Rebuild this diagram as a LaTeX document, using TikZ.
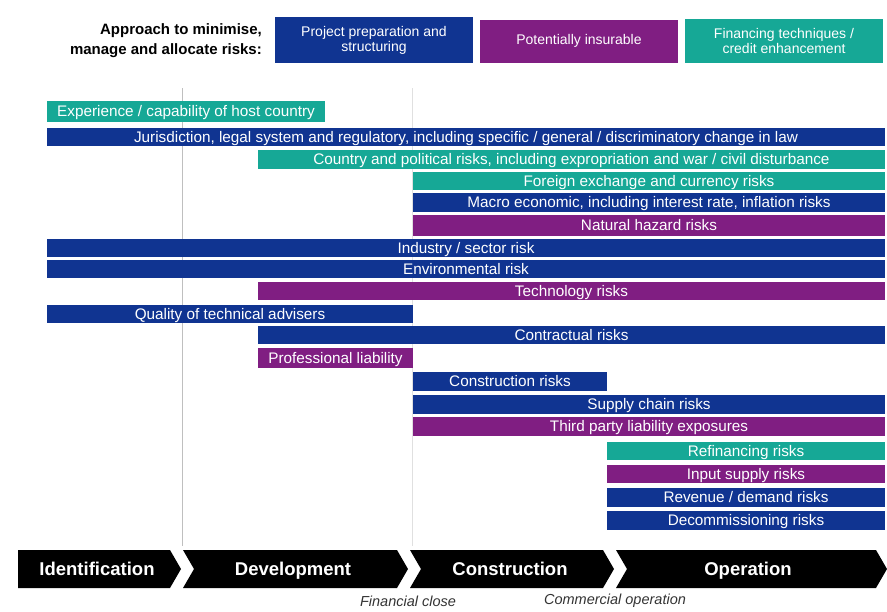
\documentclass[tikz,border=0pt]{standalone}
\usepackage{fontspec}
\setmainfont{Liberation Sans}
\definecolor{rblue}{RGB}{16,52,145}
\definecolor{rpurple}{RGB}{128,30,130}
\definecolor{rteal}{RGB}{22,168,150}
\newcommand\riskbar[7]{%
  \node[bar, fill=#6, minimum width={(#3-#2)*1pt}, minimum height={(#5-#4)*1pt}]
    (#1) at ({(#2+#3)/2},{(#4+#5)/2}) {#7};}
\begin{document}
\begin{tikzpicture}[x=1pt,y=-1pt,
  bar/.style={draw=none, inner sep=0pt, text=white, font=\fontsize{15.3}{15}\selectfont, text height=13.8pt, text depth=3pt},
  legbox/.style={draw=none, inner sep=0pt, text=white, align=center, font=\fontsize{14}{15}\selectfont},
  phase/.style={fill=black},
  phasetext/.style={text=white, font=\bfseries\fontsize{18.5}{20}\selectfont, inner sep=0pt, text height=17.3pt, text depth=4pt},
  milestone/.style={font=\itshape\fontsize{14.5}{14}\selectfont, text=black!80, inner sep=0pt},
  grid/.style={draw=black!25, line width=1pt}]
\useasboundingbox (0,0) rectangle (887,611);
% legend
\node[align=right, anchor=east, inner sep=0pt, font=\bfseries\fontsize{15}{20}\selectfont] (approach) at (262,41)
  {Approach to minimise,\\manage and allocate risks:};
\node[legbox, fill=rblue, minimum width=198pt, minimum height=46pt] (lg1) at (374,40) {Project preparation and\\structuring};
\node[legbox, fill=rpurple, minimum width=198pt, minimum height=43pt] (lg2) at (579,41) {Potentially insurable};
\node[legbox, fill=rteal, minimum width=198pt, minimum height=44pt] (lg3) at (784,41) {Financing techniques /\\credit enhancement};
% grid lines
\coordinate (g1t) at (182,88); \coordinate (g1b) at (182,546);
\coordinate (g2t) at (412,88); \coordinate (g2b) at (412,546);
\draw[grid] (g1t) -- (g1b);
\draw[grid, draw=black!12] (g2t) -- (g2b);
% bars
\riskbar{b1}{47}{325}{101}{122}{rteal}{Experience / capability of host country}
\riskbar{b2}{47}{885}{128}{146}{rblue}{Jurisdiction, legal system and regulatory, including specific / general / discriminatory change in law}
\riskbar{b3}{258}{885}{150}{169}{rteal}{Country and political risks, including expropriation and war / civil disturbance}
\riskbar{b4}{413}{885}{172}{190}{rteal}{Foreign exchange and currency risks}
\riskbar{b5}{413}{885}{193}{212}{rblue}{Macro economic, including interest rate, inflation risks}
\riskbar{b6}{413}{885}{215}{236}{rpurple}{Natural hazard risks}
\riskbar{b7}{47}{885}{239}{257}{rblue}{Industry / sector risk}
\riskbar{b8}{47}{885}{260}{278}{rblue}{Environmental risk}
\riskbar{b9}{258}{885}{282}{300}{rpurple}{Technology risks}
\riskbar{b10}{47}{413}{305}{323}{rblue}{Quality of technical advisers}
\riskbar{b11}{258}{885}{326}{344}{rblue}{Contractual risks}
\riskbar{b12}{258}{413}{348}{368}{rpurple}{Professional liability}
\riskbar{b13}{413}{607}{372}{391}{rblue}{Construction risks}
\riskbar{b14}{413}{885}{395}{414}{rblue}{Supply chain risks}
\riskbar{b15}{413}{885}{417}{436}{rpurple}{Third party liability exposures}
\riskbar{b16}{607}{885}{442}{460}{rteal}{Refinancing risks}
\riskbar{b17}{607}{885}{465}{483}{rpurple}{Input supply risks}
\riskbar{b18}{607}{885}{488}{507}{rblue}{Revenue / demand risks}
\riskbar{b19}{607}{885}{511}{530}{rblue}{Decommissioning risks}
% phases
\fill[phase] (18,550) -- (170,550) -- (181,569) -- (170,588) -- (18,588) -- cycle;
\fill[phase] (183,550) -- (397,550) -- (408,569) -- (397,588) -- (183,588) -- (194,569) -- cycle;
\fill[phase] (410,550) -- (603,550) -- (614,569) -- (603,588) -- (410,588) -- (421,569) -- cycle;
\fill[phase] (616,550) -- (876,550) -- (887,569) -- (876,588) -- (616,588) -- (627,569) -- cycle;
\node[phasetext] (p1) at (97,569) {Identification};
\node[phasetext] (p2) at (293,569) {Development};
\node[phasetext] (p3) at (510,569) {Construction};
\node[phasetext] (p4) at (748,569) {Operation};
\node[milestone] (m1) at (408,601) {Financial close};
\node[milestone] (m2) at (615,601) {Commercial operation};
\end{tikzpicture}
\end{document}
